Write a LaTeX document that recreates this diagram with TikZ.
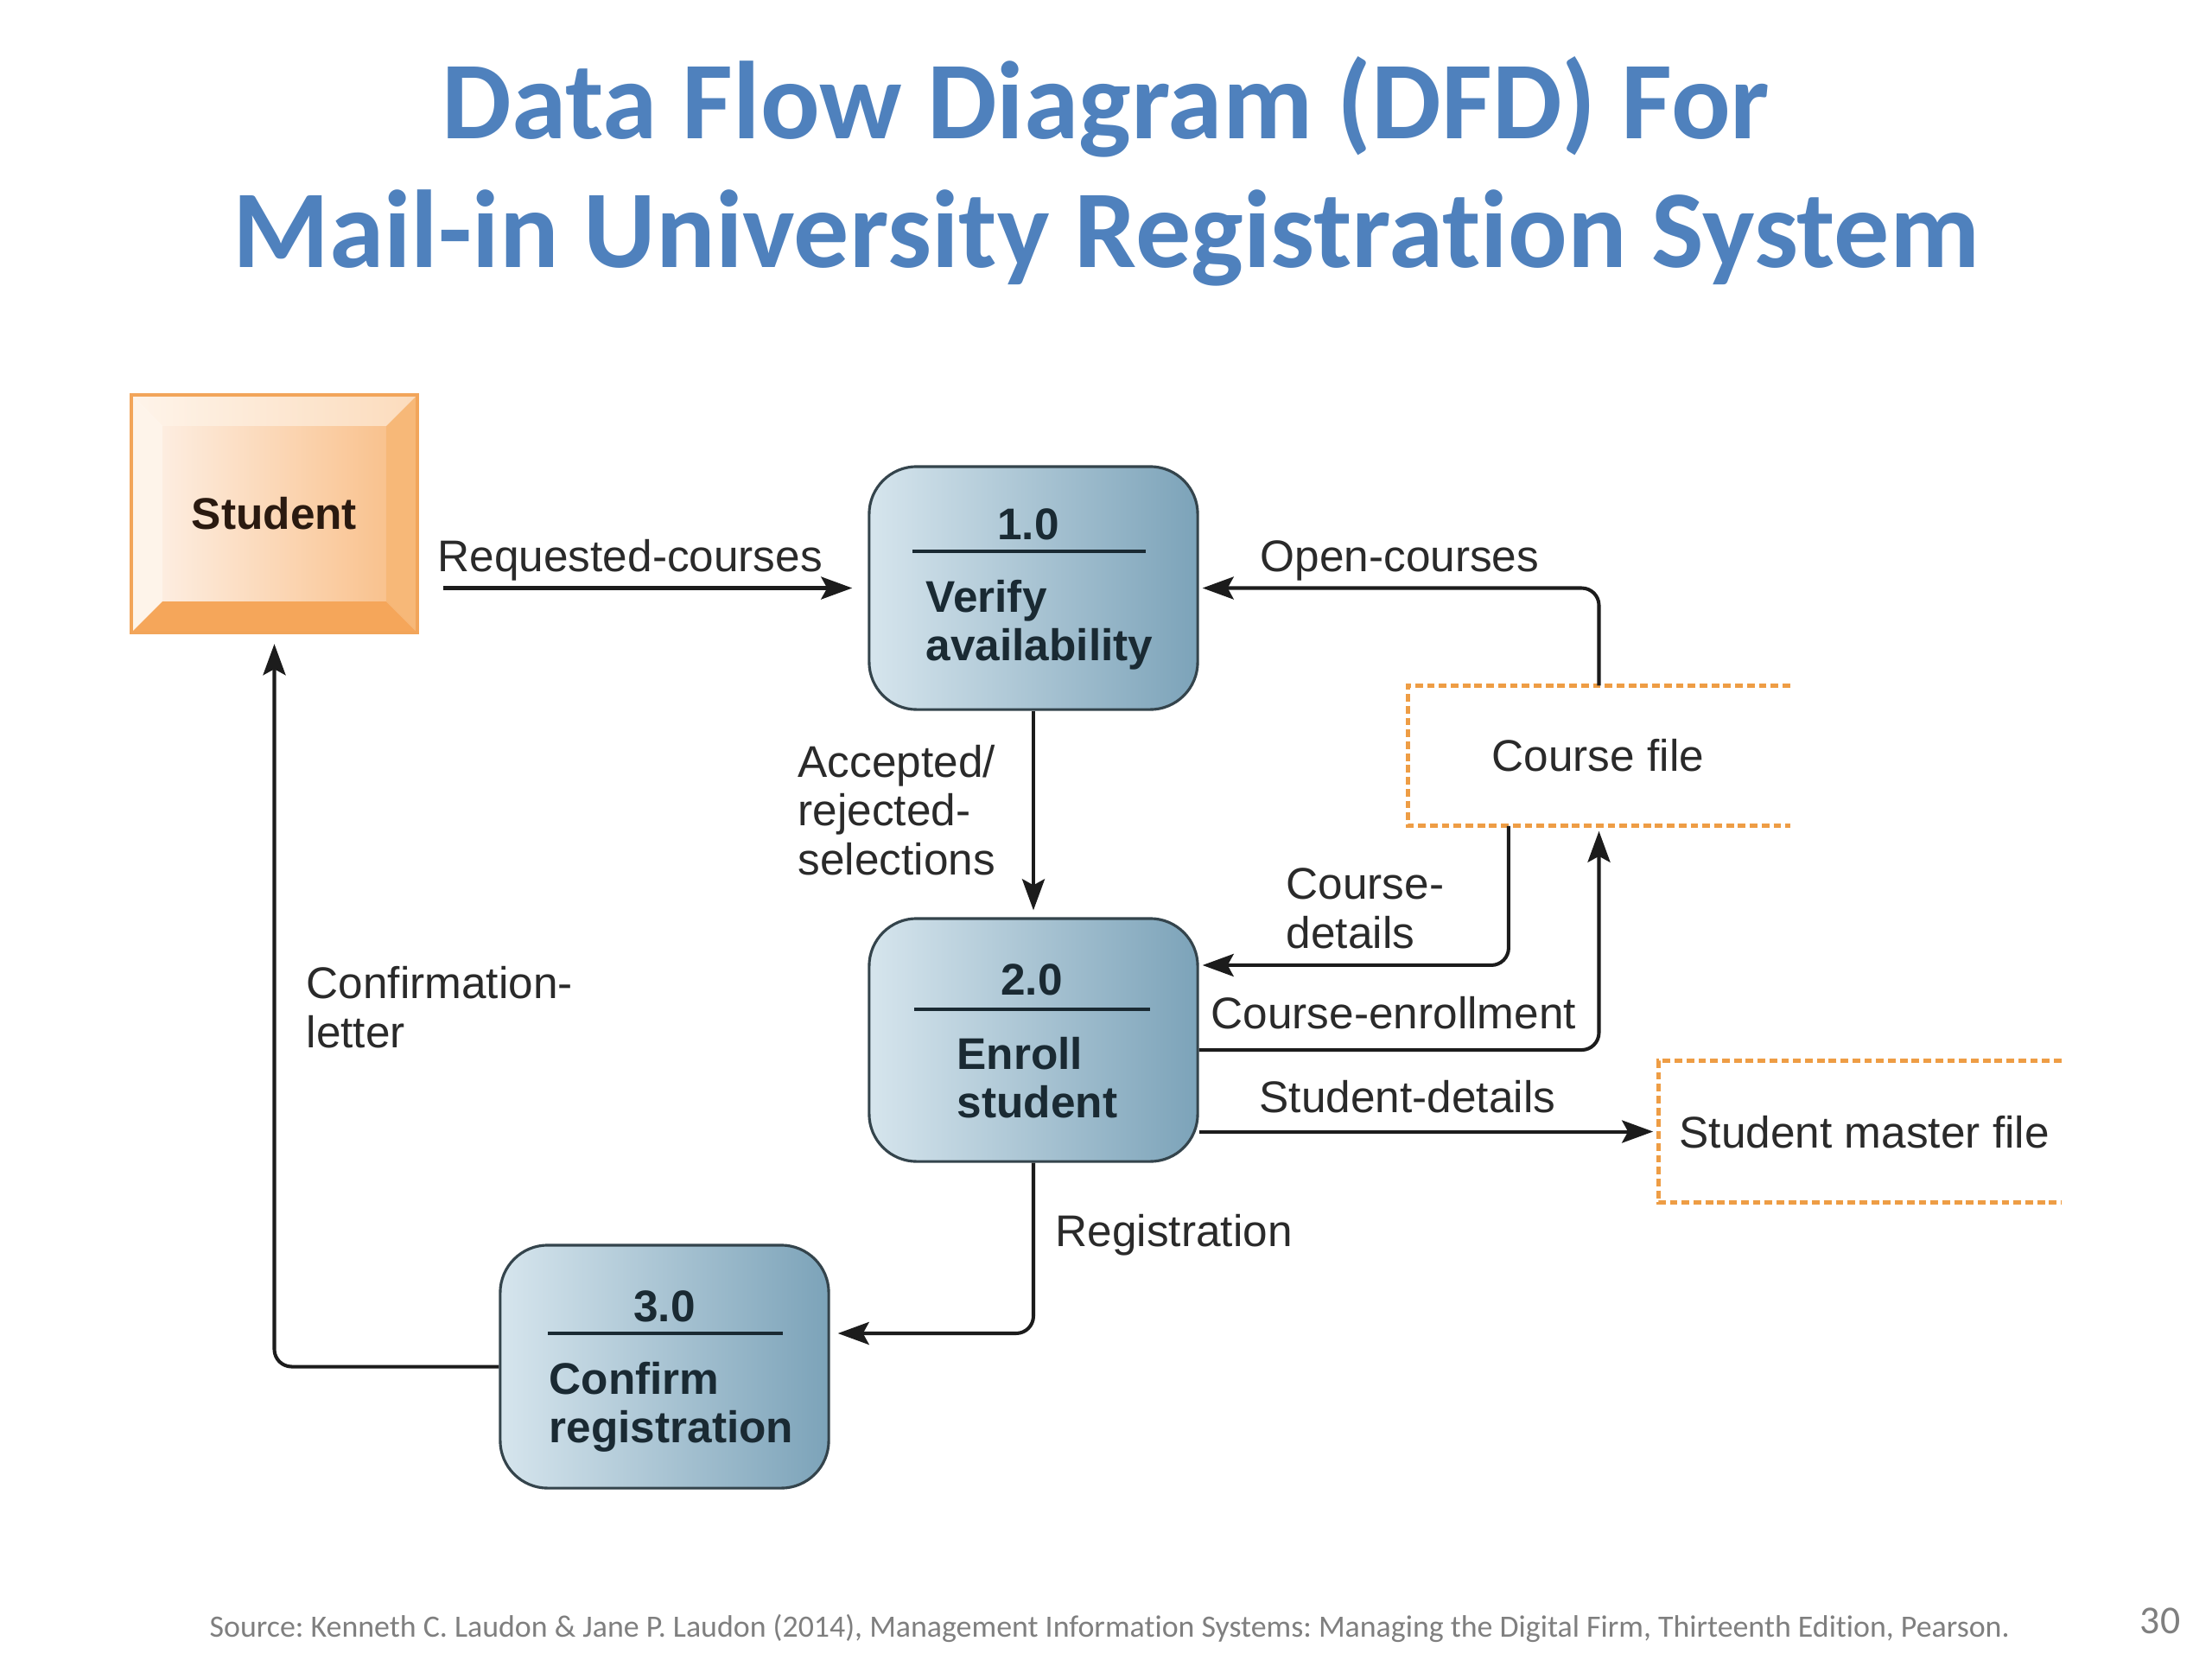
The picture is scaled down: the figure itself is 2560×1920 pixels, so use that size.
\documentclass[tikz,border=0pt]{standalone}
\usepackage{fontspec}
\setmainfont{Liberation Sans}
\newfontfamily\titlefont[Ligatures=NoCommon]{Carlito}
\usetikzlibrary{arrows.meta,calc}
\definecolor{titleblue}{HTML}{4F81BD}
\definecolor{procL}{HTML}{D6E5ED}
\definecolor{procR}{HTML}{7CA3B9}
\definecolor{procB}{HTML}{34444C}
\definecolor{proctext}{HTML}{1A2A33}
\definecolor{linecol}{HTML}{1C1C1C}
\definecolor{labelcol}{HTML}{2A2A2A}
\definecolor{storeor}{HTML}{EE9D45}
\definecolor{stuBorder}{HTML}{F2A55A}
\definecolor{stuL}{HTML}{FDEDE0}
\definecolor{stuR}{HTML}{F9C28E}
\definecolor{stuTop}{HTML}{FCE2C8}
\definecolor{stuLeft}{HTML}{FEF4EA}
\definecolor{stuRight}{HTML}{F7B878}
\definecolor{stuBot}{HTML}{F5A65A}
\definecolor{stutext}{HTML}{2A1A10}
\definecolor{footgray}{HTML}{7F7F7F}
\frenchspacing
\begin{document}
\begin{tikzpicture}[x=0.01cm,y=0.01cm,
  font=\fontsize{14.6}{16}\selectfont,
  proc/.style={draw=procB, line width=0.9pt, rounded corners=0.55cm,
    left color=procL, right color=procR,
    minimum width=3.8cm, minimum height=2.81cm, inner sep=0pt},
  procnum/.style={text=proctext, font=\fontsize{14.6}{16}\selectfont\bfseries, anchor=base, inner sep=0pt},
  proctxt/.style={text=proctext, font=\fontsize{14.6}{15.8}\selectfont\bfseries, anchor=base west, align=left, inner sep=0pt},
  procrule/.style={draw=proctext, line width=1.3pt},
  flow/.style={draw=linecol, line width=1.15pt, rounded corners=0.2cm,
    -{Stealth[length=0.36cm,width=0.26cm,inset=0.07cm]}},
  store/.style={draw=storeor, line width=1.4pt, dash pattern=on 2.5pt off 1.4pt},
  lbl/.style={text=labelcol, inner sep=0pt, anchor=base west, align=left},
  student/.style={draw=stuBorder, line width=1.2pt, minimum width=3.31cm,
    minimum height=2.75cm, inner sep=0pt, text=stutext,
    font=\fontsize{14.6}{16}\selectfont\bfseries,
    path picture={
      \coordinate (nw) at (path picture bounding box.north west);
      \coordinate (ne) at (path picture bounding box.north east);
      \coordinate (sw) at (path picture bounding box.south west);
      \coordinate (se) at (path picture bounding box.south east);
      \shade[left color=stuL, right color=stuR] ($(nw)+(0.36cm,-0.36cm)$) rectangle ($(se)+(-0.36cm,0.36cm)$);
      \shade[left color=stuLeft, right color=stuTop!80!stuR] (nw) -- (ne) -- ($(ne)+(-0.36cm,-0.36cm)$) -- ($(nw)+(0.36cm,-0.36cm)$) -- cycle;
      \fill[stuLeft] (nw) -- ($(nw)+(0.36cm,-0.36cm)$) -- ($(sw)+(0.36cm,0.36cm)$) -- (sw) -- cycle;
      \fill[stuRight] (ne) -- (se) -- ($(se)+(-0.36cm,0.36cm)$) -- ($(ne)+(-0.36cm,-0.36cm)$) -- cycle;
      \fill[stuBot] (sw) -- (se) -- ($(se)+(-0.36cm,0.36cm)$) -- ($(sw)+(0.36cm,0.36cm)$) -- cycle;
    }}
]
\path[use as bounding box, fill=white] (0,0) rectangle (2560,-1920);

% Title
\node[font=\titlefont\fontsize{36.4}{40}\selectfont\bfseries, text=titleblue, anchor=base, inner sep=0pt] (t1) at (1280,-160) {Data Flow Diagram (DFD) For};
\node[font=\titlefont\fontsize{36.4}{40}\selectfont\bfseries, text=titleblue, anchor=base, inner sep=0pt] (t2) at (1280,-309) {Mail-in University Registration System};

% Student entity
\node[student] (student) at (317.5,-594.5) {\raisebox{-0.6mm}{Student}};

% Processes
\node[proc] (p1) at (1196,-680.5) {};
\node[procnum] (p1n) at (1190,-624) {1.0};
\draw[procrule] (1056,-638) -- (1326,-638);
\node[proctxt] (p1t) at (1071,-764) {Verify\\availability};

\node[proc] (p2) at (1196,-1203.5) {};
\node[procnum] (p2n) at (1194,-1151) {2.0};
\draw[procrule] (1058,-1168) -- (1331,-1168);
\node[proctxt] (p2t) at (1107,-1293) {Enroll\\student};

\node[proc] (p3) at (769,-1581.5) {};
\node[procnum] (p3n) at (769,-1529) {3.0};
\draw[procrule] (634,-1543) -- (906,-1543);
\node[proctxt] (p3t) at (635,-1669) {Confirm\\registration};

% Data stores
\node[minimum width=4.41cm, minimum height=1.61cm, inner sep=0pt] (cfile) at (1850.5,-874.5) {};
\draw[store] (cfile.north east) -- (cfile.north west) -- (cfile.south west) -- (cfile.south east);
\node[lbl] (cfilet) at (1726,-892) {Course file};

\node[minimum width=4.65cm, minimum height=1.63cm, inner sep=0pt] (smf) at (2152.5,-1309.5) {};
\draw[store] (smf.north east) -- (smf.north west) -- (smf.south west) -- (smf.south east);
\node[lbl] (smft) at (1943,-1328) {Student master file};

% Flows
\draw[flow, shorten <=0.28cm, shorten >=0.18cm] (student.east |- p1.west) -- (p1.west);
\node[lbl] (l1) at (506,-661) {Requested-courses};

\draw[flow, shorten >=0.04cm] (cfile.north) |- (p1.east);
\node[lbl] (l2) at (1458,-661) {Open-courses};

\draw[flow, shorten >=0.08cm] (p1.south) -- (p2.north);
\node[lbl] (l3) at (923,-1012) {Accepted/\\rejected-\\selections};

\draw[flow, shorten >=0.04cm] ([xshift=-1.045cm]cfile.south) |- ([yshift=0.865cm]p2.east);
\node[lbl] (l4) at (1488,-1097) {Course-\\details};

\draw[flow, shorten >=0.06cm] ([yshift=-0.115cm]p2.east) -| (cfile.south);
\node[lbl] (l5) at (1401,-1190) {Course-enrollment};

\draw[flow, shorten >=0.06cm] (p2.east |- smf.west) -- (smf.west);
\node[lbl] (l6) at (1457,-1287) {Student-details};

\draw[flow, shorten >=0.09cm] (p2.south) |- ([yshift=0.385cm]p3.east);
\node[lbl] (l7) at (1221,-1442) {Registration};

\draw[flow, shorten >=0.11cm] (p3.west) -| (student.south);
\node[lbl] (l8) at (354,-1212) {Confirmation-\\letter};

% Footer
\node[font=\titlefont\fontsize{10.2}{12}\selectfont, text=footgray, anchor=base west, inner sep=0pt] (src) at (242,-1894) {Source: Kenneth C. Laudon \& Jane P. Laudon (2014), Management Information Systems: Managing the Digital Firm, Thirteenth Edition, Pearson.};
\node[font=\titlefont\fontsize{13}{15}\selectfont, text=footgray, anchor=base east, inner sep=0pt] (pnum) at (2524,-1890) {30};
\end{tikzpicture}
\end{document}
